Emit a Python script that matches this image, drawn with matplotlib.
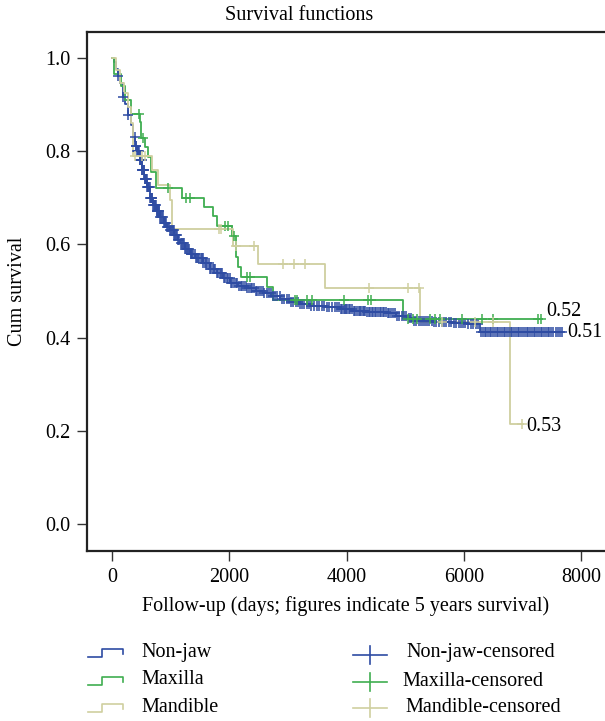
import numpy as np
import matplotlib
matplotlib.use("Agg")
import matplotlib.pyplot as plt
from matplotlib.lines import Line2D

plt.rcParams['font.family'] = ['Liberation Serif', 'DejaVu Serif']

# ---------------- data ----------------
title = "Survival functions"
xlabel = "Follow-up (days; figures indicate 5 years survival)"
ylabel = "Cum survival"
xticks = [0, 2000, 4000, 6000, 8000]
yticks = [0.0, 0.2, 0.4, 0.6, 0.8, 1.0]

# Non-jaw: step times and survival after each step
nj_t = [0, 30, 60, 100, 140, 190, 230, 275, 320, 360, 400, 425, 470, 510, 550,
        600, 650, 700, 760, 820, 880, 940, 990, 1060, 1120, 1160, 1240, 1330,
        1420, 1550, 1670, 1790, 1900, 2010, 2150, 2300, 2450, 2580, 2720, 2865,
        3050, 3200, 3400, 3650, 3890, 4100, 4350, 4690, 4850, 5030, 5135, 5475,
        5800, 6055, 6275]
nj_s = [1.0, 0.99, 0.975, 0.96, 0.945, 0.915, 0.90, 0.877, 0.855, 0.83, 0.81,
        0.80, 0.78, 0.759, 0.74, 0.723, 0.70, 0.685, 0.672, 0.659, 0.645, 0.638,
        0.631, 0.62, 0.61, 0.602, 0.59, 0.58, 0.57, 0.56, 0.548, 0.538, 0.527,
        0.517, 0.511, 0.507, 0.50, 0.496, 0.49, 0.483, 0.477, 0.472, 0.468,
        0.465, 0.462, 0.458, 0.455, 0.452, 0.447, 0.442, 0.436, 0.434, 0.432,
        0.430, 0.412]
nj_cens = [100, 190, 280, 395, 405, 415, 425, 435, 450, 462, 470, 482, 490, 498,
           505, 513, 520, 530, 540, 548, 555, 565, 575, 582, 590, 600, 610, 620,
           630, 640, 650, 660, 670, 680, 690, 702, 715, 727, 740, 750, 760, 775,
           790, 800, 810, 825, 840, 855, 870, 885, 900, 912, 925, 940, 960, 975,
           990, 1005, 1020, 1035, 1050, 1065, 1080, 1095, 1110, 1130, 1150, 1170,
           1190, 1205, 1220, 1240, 1260, 1280, 1300, 1320, 1340, 1355, 1370,
           1390, 1410, 1430, 1450, 1470, 1490, 1510, 1530, 1545, 1560, 1580,
           1600, 1625, 1650, 1670, 1690, 1715, 1740, 1765, 1790, 1815, 1840,
           1860, 1880, 1905, 1930, 1955, 1980, 2005, 2030, 2055, 2080, 2110,
           2140, 2170, 2200, 2225, 2250, 2280, 2310, 2340, 2370, 2395, 2420,
           2450, 2480, 2510, 2540, 2570, 2600, 2640, 2680, 2715, 2750, 2785,
           2820, 2860, 2900, 2940, 2980, 3020, 3060, 3095, 3130, 3170, 3210,
           3245, 3280, 3320, 3360, 3400, 3450, 3490, 3530, 3575, 3620, 3660,
           3700, 3750, 3800, 3840, 3880, 3905, 3930, 3950, 3970, 3990, 4010,
           4035, 4060, 4090, 4120, 4150, 4180, 4205, 4230, 4255, 4280, 4300,
           4320, 4350, 4380, 4405, 4430, 4455, 4480, 4510, 4540, 4565, 4590,
           4615, 4640, 4670, 4700, 4730, 4760, 4795, 4830, 4865, 4900, 4940,
           4980, 5020, 5060, 5105, 5150, 5190, 5230, 5265, 5300, 5340, 5380,
           5415, 5450, 5490, 5530, 5575, 5620, 5660, 5700, 5740, 5780, 5825,
           5870, 5910, 5950, 5985, 6020, 6070, 6120, 6160, 6200, 6240, 6300,
           6330, 6355, 6380, 6410, 6440, 6470, 6500, 6530, 6560, 6590, 6620,
           6650, 6680, 6710, 6740, 6770, 6800, 6830, 6860, 6890, 6920, 6950,
           6980, 7010, 7040, 7070, 7100, 7130, 7160, 7190, 7220, 7250, 7280,
           7310, 7340, 7370, 7400, 7430, 7460, 7495, 7530, 7565, 7600, 7640,
           7675]

# Maxilla
mx_t = [0, 40, 150, 230, 330, 470, 500, 560, 620, 660, 750, 1190, 1570, 1720,
        1790, 2050, 2115, 2150, 2200, 2640, 2750, 4960]
mx_s = [1.0, 0.965, 0.94, 0.91, 0.88, 0.862, 0.828, 0.808, 0.787, 0.755, 0.72,
        0.70, 0.68, 0.66, 0.64, 0.618, 0.573, 0.551, 0.53, 0.509, 0.48, 0.44]
mx_cens = [460, 525, 960, 1260, 1330, 1930, 1980, 2080, 2300, 2350, 3120, 3155,
           3325, 3410, 3960, 4370, 4420, 5050, 5135, 5200, 5425, 5510, 5595,
           5970, 6310, 6500, 7265, 7320]
mx_end = 7330

# Mandible
md_t = [0, 60, 140, 200, 280, 330, 360, 680, 780, 990, 1020, 2065, 2490, 3630,
        5250, 6790]
md_s = [1.0, 0.973, 0.945, 0.924, 0.895, 0.86, 0.789, 0.759, 0.727, 0.695,
        0.633, 0.596, 0.557, 0.507, 0.434, 0.215]
md_cens = [390, 520, 560, 1830, 1860, 2115, 2420, 2915, 3100, 3290, 4385, 5050,
           5235, 5630, 6190, 6500, 7000]
md_end = 7010

labels = ["Non-jaw", "Maxilla", "Mandible"]
end_labels = ["0.51", "0.52", "0.53"]
colors = ["#2e4ca3", "#3fae50", "#cfcf9f"]

# ---------------- figure ----------------
W, H = 605, 721
fig = plt.figure(figsize=(W / 100, H / 100), dpi=100)
ax = fig.add_axes([87 / W, 1 - 551 / H, 1 - 87 / W, (551 - 32) / H])

x0 = lambda v: (v - 112) / 0.05863
ax.set_xlim(x0(87), x0(605))
ax.set_ylim(-(551 - 524.3) / 466.6, 1.0 + (57.7 - 32) / 466.6)


def km(ax, t, s, cens, end, color):
    t = np.asarray(t, float)
    s = np.asarray(s, float)
    tt = np.append(t, end)
    ss = np.append(s, s[-1])
    ax.step(tt, ss, where='post', color=color, lw=1.3, zorder=2)
    c = np.asarray(cens, float)
    idx = np.searchsorted(t, c, side='right') - 1
    ax.plot(c, s[idx], ls='none', marker='+', ms=7, mew=1.1, color=color,
            zorder=3)
    return ss[-1]


km(ax, nj_t, nj_s, nj_cens, max(nj_cens), colors[0])
km(ax, mx_t, mx_s, mx_cens, mx_end, colors[1])
km(ax, md_t, md_s, md_cens, md_end, colors[2])

# end labels
fs = 14.5
ax.text(7760, nj_s[-1] - 0.002, end_labels[0], fontsize=fs, va='center', ha='left')
ax.text(7400, mx_s[-1] + 0.017, end_labels[1], fontsize=fs, va='center', ha='left')
ax.text(7070, md_s[-1] - 0.005, end_labels[2], fontsize=fs, va='center', ha='left')

ax.set_xticks(xticks)
ax.set_yticks(yticks)
ax.set_xticklabels([str(v) for v in xticks], fontsize=fs)
ax.set_yticklabels([f"{v:.1f}" for v in yticks], fontsize=fs)
ax.tick_params(direction='out', length=7, width=1.0, color='#333333', pad=5)
for sp in ['left', 'bottom', 'top']:
    ax.spines[sp].set_linewidth(1.6)
    ax.spines[sp].set_color('#222222')
ax.spines['right'].set_visible(False)

fig.text(299 / W, 1 - 15 / H, title, fontsize=fs, ha='center', va='center')
fig.text(346 / W, 1 - 606 / H, xlabel, fontsize=fs, ha='center', va='center')
fig.text(18 / W, 1 - 291 / H, ylabel, fontsize=fs, ha='center', va='center',
         rotation=90)

# ---------------- legend ----------------
def fx(px):
    return px / W


def fy(py):
    return 1 - py / H


rows = [652, 680, 707]
for i, (lab, col) in enumerate(zip(labels, colors)):
    yc = rows[i]
    xs = [88, 102, 102, 123, 123]
    ys = [yc + 5, yc + 5, yc - 3, yc - 3, yc + 2]
    fig.add_artist(Line2D([fx(v) for v in xs], [fy(v) for v in ys],
                          color=col, lw=1.2, transform=fig.transFigure))
    fig.text(fx(141), fy(yc), lab, fontsize=fs, ha='left', va='center')
    # censored
    yc2 = [655, 682, 708][i]
    fig.add_artist(Line2D([fx(353), fx(387)], [fy(yc2), fy(yc2)], color=col,
                          lw=1.2, transform=fig.transFigure))
    fig.add_artist(Line2D([fx(370), fx(370)], [fy(yc2 - 9), fy(yc2 + 9)],
                          color=col, lw=1.2, transform=fig.transFigure))
    fig.text(fx([406, 402, 405][i]), fy([652, 681, 708][i]),
             lab + "-censored", fontsize=fs, ha='left', va='center')

fig.savefig("out.png", dpi=100, facecolor='white')
